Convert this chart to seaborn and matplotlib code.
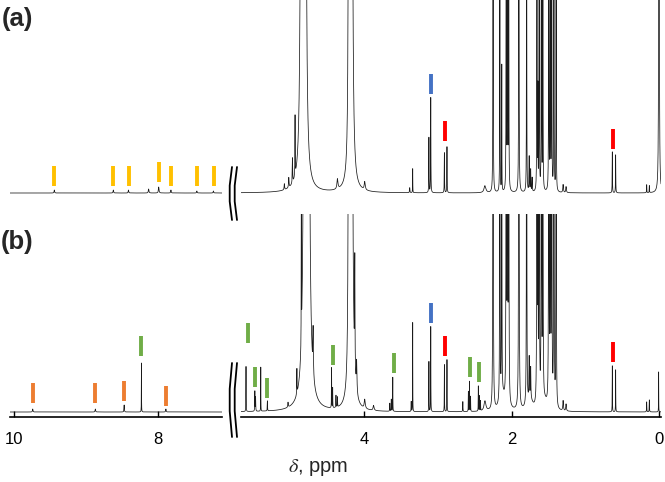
import numpy as np
import matplotlib
matplotlib.use('Agg')
import matplotlib.pyplot as plt
import seaborn as sns
from matplotlib.lines import Line2D

sns.set_theme(style='white')
plt.rcParams['font.family'] = ['Liberation Sans', 'DejaVu Sans']
plt.rcParams['mathtext.fontset'] = 'stix'

# ---------------- data ----------------
# peak lists: position (ppm), height (intensity), half width (ppm)

# (a) aromatic region 7.1 - 10 ppm
a_left_ppm = [9.44, 8.62, 8.41, 8.13, 7.99, 7.82, 7.46, 7.23]
a_left_int = [3, 3, 3, 4, 6, 3, 2, 2]
a_left_hw = [0.004, 0.004, 0.004, 0.005, 0.005, 0.004, 0.004, 0.004]

# (a) aliphatic region 0 - 5.7 ppm
a_ppm = [5.08, 5.02, 4.97, 4.935, 4.845, 4.80, 4.36, 4.205, 4.17, 3.99,
         3.38, 3.34, 3.12, 3.095, 2.91, 2.875, 2.36,
         2.25, 2.158, 2.132, 2.072, 2.055, 2.038,
         1.90, 1.795, 1.76, 1.74, 1.72,
         1.655, 1.642, 1.625, 1.595, 1.575,
         1.495, 1.475, 1.455, 1.425, 1.395,
         1.30, 1.26, 0.633, 0.588, 0.167, 0.131, 0.0]
a_int = [6, 10, 25, 60, 4000, 4000, 10, 1500, 2500, 8,
         5, 24, 55, 95, 40, 46, 7,
         900, 500, 126, 700, 800, 700,
         1200, 600, 35, 22, 14,
         700, 96, 700, 700, 600,
         700, 700, 700, 700, 500,
         8, 6, 41, 38, 8, 7, 3000]
a_hw = [0.004, 0.004, 0.003, 0.002, 0.005, 0.005, 0.008, 0.004, 0.006, 0.008,
        0.003, 0.0015, 0.002, 0.002, 0.002, 0.002, 0.015,
        0.0015, 0.0015, 0.0015, 0.0015, 0.0015, 0.0015,
        0.0015, 0.0015, 0.003, 0.003, 0.003,
        0.0015, 0.0015, 0.0015, 0.0015, 0.0015,
        0.0015, 0.0015, 0.0015, 0.0015, 0.0015,
        0.005, 0.005, 0.002, 0.002, 0.002, 0.002, 0.0015]

# (b) aromatic region
b_left_ppm = [9.74, 8.87, 8.47, 8.23, 7.89]
b_left_int = [3, 3, 7, 49, 3]
b_left_hw = [0.004, 0.004, 0.003, 0.0012, 0.004]

# (b) aliphatic region
b_ppm = [5.60, 5.48, 5.47, 5.40, 5.31, 5.03, 4.91, 4.85, 4.80, 4.76, 4.69,
         4.44, 4.425, 4.38, 4.36, 4.205, 4.17, 4.125, 4.10, 3.99, 3.87,
         3.65, 3.63, 3.61, 3.36, 3.34, 3.12, 3.095, 2.91, 2.875, 2.66,
         2.585, 2.57, 2.555, 2.45, 2.435, 2.42, 2.36,
         2.25, 2.158, 2.132, 2.072, 2.055, 2.038, 2.12,
         1.90, 1.795, 1.76, 1.74, 1.75,
         1.655, 1.642, 1.625, 1.595, 1.575, 1.55,
         1.495, 1.475, 1.455, 1.425, 1.395,
         1.30, 1.26, 0.633, 0.588, 0.167, 0.131, 0.005]
b_int = [45, 20, 14, 44, 10, 5, 25, 155, 4000, 4000, 45,
         40, 20, 12, 10, 1500, 2500, 110, 30, 9, 5,
         8, 12, 34, 10, 89, 50, 85, 47, 52, 10,
         20, 30, 15, 25, 15, 10, 10,
         1200, 700, 400, 900, 1000, 900, 15,
         1500, 800, 40, 30, 12,
         900, 300, 900, 900, 800, 8,
         900, 900, 900, 900, 700,
         10, 7, 46, 42, 10, 12, 40]
b_hw = [0.0015, 0.002, 0.002, 0.0012, 0.002, 0.004, 0.002, 0.0015, 0.006, 0.006, 0.004,
        0.0015, 0.0015, 0.002, 0.002, 0.004, 0.006, 0.003, 0.005, 0.008, 0.008,
        0.002, 0.002, 0.0015, 0.002, 0.0012, 0.0015, 0.0015, 0.0015, 0.0015, 0.002,
        0.0015, 0.0015, 0.0015, 0.0015, 0.0015, 0.0015, 0.015,
        0.002, 0.002, 0.002, 0.002, 0.002, 0.002, 0.04,
        0.002, 0.002, 0.003, 0.003, 0.04,
        0.002, 0.002, 0.002, 0.002, 0.002, 0.04,
        0.002, 0.002, 0.002, 0.002, 0.002,
        0.005, 0.005, 0.0015, 0.0015, 0.002, 0.002, 0.0012]

# assignment markers: ppm and level of the marker foot
a_yellow_ppm = [9.44, 8.63, 8.40, 7.99, 7.82, 7.46, 7.22]
a_yellow_y = [7, 7, 7, 11, 7, 7, 7]
a_blue_ppm = [3.09]
a_blue_y = [99]
a_red_ppm = [2.90, 0.62]
a_red_y = [52, 44]

b_orange_ppm = [9.74, 8.87, 8.47, 7.89]
b_orange_y = [9, 9, 11, 6]
b_green_left_ppm = [8.23]
b_green_left_y = [56]
b_green_ppm = [5.57, 5.48, 5.31, 4.42, 3.60, 2.56, 2.44]
b_green_y = [69, 25, 14, 47, 39, 35, 30]
b_blue_ppm = [3.09]
b_blue_y = [89]
b_red_ppm = [2.90, 0.62]
b_red_y = [56, 50]

YELLOW, ORANGE, GREEN = '#FFC000', '#ED7D31', '#70AD47'
BLUE, RED = '#4472C4', '#FF0000'

W, H = 665, 482


def lorentz_sum(lo, hi, ppm, inten, hw):
    x = np.unique(np.concatenate([np.arange(lo, hi, 0.0003), ppm]))
    d = x[:, None] - np.asarray(ppm)[None, :]
    w = np.asarray(hw)[None, :]
    y = (np.asarray(inten)[None, :] * w**2 / (d**2 + w**2)).sum(axis=1)
    return x, y


def box(x0, x1, ytop, ybot):
    return [x0 / W, 1 - ybot / H, (x1 - x0) / W, (ybot - ytop) / H]


def draw(ax, lo, hi, ppm, inten, hw):
    x, y = lorentz_sum(lo, hi, ppm, inten, hw)
    sns.lineplot(x=x, y=y, ax=ax, color='#1a1a1a', linewidth=0.55,
                 estimator=None, sort=False)


def marks(ax, ppm, foot, color):
    foot = np.asarray(foot, dtype=float)
    ax.vlines(ppm, foot, foot + 20, color=color, linewidth=2.8)


fig = plt.figure(figsize=(W / 100, H / 100), dpi=100)

LEFT_X = (10.056, 7.111)
RIGHT_X = (5.668, -0.027)

ax_al = fig.add_axes(box(10, 222, 0, 201))
ax_ar = fig.add_axes(box(241, 661, 0, 201))
ax_bl = fig.add_axes(box(10, 222, 214, 417))
ax_br = fig.add_axes(box(241, 661, 214, 417))

draw(ax_al, 7.0, 10.2, a_left_ppm, a_left_int, a_left_hw)
draw(ax_ar, -0.1, 5.75, a_ppm, a_int, a_hw)
draw(ax_bl, 7.0, 10.2, b_left_ppm, b_left_int, b_left_hw)
draw(ax_br, -0.1, 5.75, b_ppm, b_int, b_hw)

marks(ax_al, a_yellow_ppm, a_yellow_y, YELLOW)
marks(ax_ar, a_blue_ppm, a_blue_y, BLUE)
marks(ax_ar, a_red_ppm, a_red_y, RED)
marks(ax_bl, b_orange_ppm, b_orange_y, ORANGE)
marks(ax_bl, b_green_left_ppm, b_green_left_y, GREEN)
marks(ax_br, b_green_ppm, b_green_y, GREEN)
marks(ax_br, b_blue_ppm, b_blue_y, BLUE)
marks(ax_br, b_red_ppm, b_red_y, RED)

for ax in [ax_al, ax_ar]:
    ax.set_ylim(-8, 193)
for ax in [ax_bl, ax_br]:
    ax.set_ylim(-5, 198)
for ax in [ax_al, ax_bl]:
    ax.set_xlim(*LEFT_X)
for ax in [ax_ar, ax_br]:
    ax.set_xlim(*RIGHT_X)

for ax in [ax_al, ax_ar, ax_bl, ax_br]:
    ax.set_facecolor('none')
    ax.set_yticks([])
    ax.set_xlabel('')
    ax.set_ylabel('')
    for s in ['top', 'left', 'right', 'bottom']:
        ax.spines[s].set_visible(False)

for ax in [ax_al, ax_ar]:
    ax.set_xticks([])

ax_bl.set_xticks([10, 8])
ax_br.set_xticks([4, 2, 0])
for ax in [ax_bl, ax_br]:
    ax.spines['bottom'].set_visible(True)
    ax.spines['bottom'].set_color('black')
    ax.spines['bottom'].set_linewidth(1.2)
    ax.tick_params(axis='x', direction='in', length=4, width=1, pad=11,
                   labelsize=12, colors='black', bottom=True)
    ax.set_xticklabels([str(t) for t in ax.get_xticks().astype(int)])

# axis break marks
for x0 in [230.5, 235.5]:
    for ytop, ybot in [(167, 220), (363, 437)]:
        xs = np.array([x0 + 1.5, x0 - 0.8, x0 - 0.8, x0 + 1.5])
        ys = np.array([ytop, ytop + (ybot - ytop) * 0.35,
                       ytop + (ybot - ytop) * 0.65, ybot])
        fig.add_artist(Line2D(xs / W, 1 - ys / H, transform=fig.transFigure,
                              color='black', linewidth=1.3))

fig.text(2 / W, 1 - 19 / H, '(a)', fontsize=18.5, fontweight='bold',
         ha='left', va='center')
fig.text(1 / W, 1 - 242 / H, '(b)', fontsize=18.5, fontweight='bold',
         ha='left', va='center')
fig.text(318.5 / W, 1 - 468 / H, r'$\delta$, ppm', fontsize=14.5,
         ha='center', va='center')

fig.savefig('out.png', dpi=100)
